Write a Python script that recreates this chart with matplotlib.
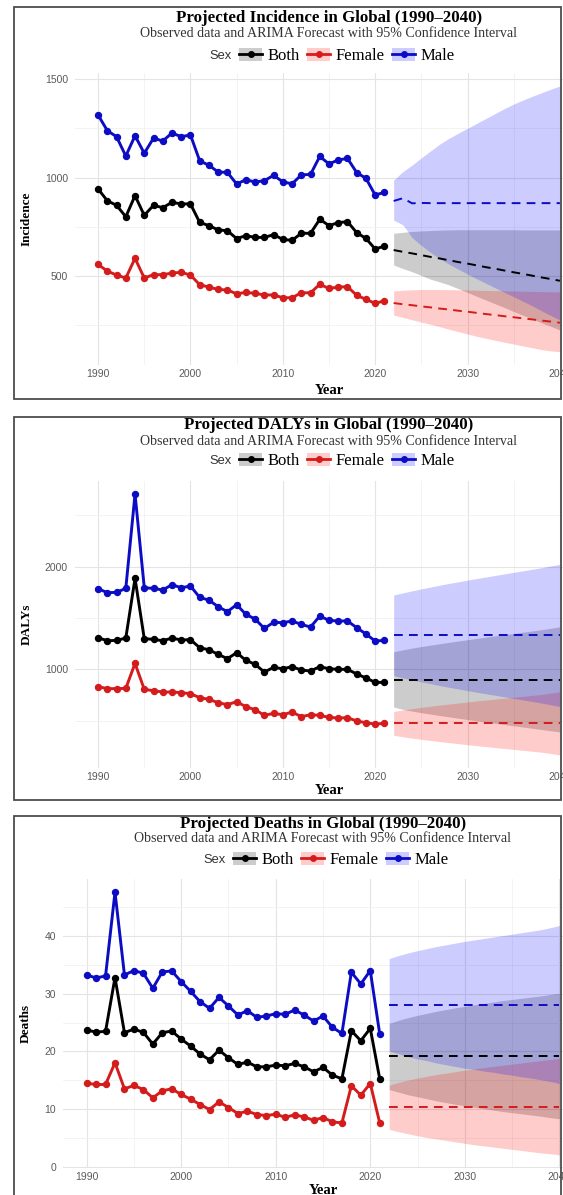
import matplotlib
matplotlib.use("Agg")
import matplotlib.pyplot as plt
from matplotlib.patches import Patch, Rectangle
from matplotlib.lines import Line2D
from matplotlib.ticker import MultipleLocator, FixedLocator

# ---------------- data ----------------
years = list(range(1990, 2022))
fyears = list(range(2022, 2041))
sexes = ["Both", "Female", "Male"]

# Incidence
inc_both = [942, 882, 859, 801, 908, 808, 859, 847, 874, 866, 866, 772, 756, 734, 730, 690,
            705, 696, 696, 710, 686, 681, 717, 717, 788, 756, 771, 776, 720, 691, 637, 652]
inc_female = [559, 525, 505, 490, 590, 490, 507, 507, 515, 519, 505, 456, 444, 432, 429, 410,
              417, 412, 404, 404, 390, 390, 415, 415, 458, 437, 444, 446, 402, 382, 361, 375]
inc_male = [1317, 1238, 1207, 1109, 1212, 1123, 1200, 1185, 1226, 1207, 1216, 1085, 1062, 1028,
            1026, 967, 989, 977, 984, 1011, 978, 968, 1013, 1016, 1107, 1069, 1089, 1097, 1025,
            996, 911, 925]
inc_both_fc = [632, 623, 615, 606, 597, 589, 580, 571, 563, 554, 545, 537, 528, 519, 511, 502, 493, 485, 476]
inc_both_hi = [717, 722, 726, 729, 731, 733, 734, 735, 735, 735, 735, 735, 735, 735, 734, 734, 734, 734, 734]
inc_both_lo = [556, 538, 522, 503, 484, 470, 455, 436, 417, 397, 378, 359, 340, 320, 301, 282, 263, 245, 226]
inc_female_fc = [363, 357, 352, 346, 341, 335, 330, 324, 319, 313, 307, 302, 296, 291, 285, 280, 274, 269, 263]
inc_female_hi = [424, 428, 430, 432, 432, 432, 431, 430, 429, 428, 427, 426, 425, 424, 423, 422, 421, 420, 420]
inc_female_lo = [302, 290, 278, 266, 255, 243, 230, 218, 206, 194, 184, 174, 164, 155, 145, 136, 127, 120, 116]
inc_male_fc = [881, 895, 869, 871, 870, 870, 870, 870, 870, 870, 870, 870, 870, 870, 870, 870, 870, 870, 870]
inc_male_hi = [987, 1030, 1063, 1100, 1135, 1170, 1199, 1225, 1250, 1275, 1300, 1325, 1350, 1373, 1393, 1412, 1430, 1448, 1464]
inc_male_lo = [784, 760, 695, 655, 620, 588, 560, 535, 510, 486, 463, 440, 417, 395, 372, 349, 324, 300, 277]

# DALYs
daly_both = [1308, 1279, 1282, 1305, 1886, 1299, 1292, 1279, 1305, 1286, 1289, 1211, 1191, 1146,
             1104, 1162, 1088, 1049, 974, 1019, 1006, 1026, 993, 984, 1026, 1006, 1000, 1000, 955,
             916, 873, 873]
daly_female = [831, 812, 812, 815, 1058, 805, 792, 779, 779, 773, 763, 724, 708, 675, 656, 685,
               636, 607, 552, 571, 558, 584, 539, 558, 552, 532, 526, 529, 497, 480, 467, 474]
daly_male = [1786, 1747, 1750, 1789, 2708, 1795, 1789, 1773, 1825, 1795, 1812, 1701, 1675, 1610,
             1562, 1630, 1536, 1490, 1399, 1458, 1455, 1471, 1438, 1412, 1519, 1477, 1471, 1471,
             1406, 1344, 1276, 1282]
daly_both_fc = [900, 900, 900, 900, 900, 900, 900, 900, 900, 900, 900, 900, 900, 900, 900, 900, 900, 900, 900]
daly_both_hi = [1171, 1190, 1207, 1222, 1236, 1250, 1263, 1276, 1289, 1302, 1314, 1326, 1338, 1350, 1362, 1374, 1386, 1400, 1415]
daly_both_lo = [632, 610, 593, 578, 564, 550, 537, 524, 511, 498, 486, 474, 462, 450, 438, 426, 414, 402, 390]
daly_female_fc = [474, 474, 474, 474, 474, 474, 474, 474, 474, 474, 474, 474, 474, 474, 474, 474, 474, 474, 474]
daly_female_hi = [590, 605, 618, 630, 641, 652, 662, 672, 682, 692, 701, 710, 719, 728, 737, 746, 755, 768, 782]
daly_female_lo = [358, 343, 330, 318, 307, 296, 286, 276, 266, 256, 247, 238, 229, 220, 211, 202, 193, 180, 166]
daly_male_fc = [1331, 1331, 1331, 1331, 1331, 1331, 1331, 1331, 1331, 1331, 1331, 1331, 1331, 1331, 1331, 1331, 1331, 1331, 1331]
daly_male_hi = [1724, 1745, 1765, 1784, 1802, 1820, 1837, 1853, 1869, 1885, 1900, 1915, 1930, 1945, 1960, 1975, 1990, 2007, 2023]
daly_male_lo = [940, 917, 897, 878, 860, 842, 825, 809, 793, 777, 762, 747, 732, 717, 702, 687, 672, 655, 637]

# Deaths
death_both = [23.70, 23.35, 23.47, 32.78, 23.24, 23.87, 23.30, 21.27, 23.24, 23.53, 22.14, 20.93,
              19.54, 18.56, 20.23, 18.90, 17.75, 18.15, 17.34, 17.34, 17.63, 17.52, 17.92, 17.34,
              16.48, 17.23, 15.90, 15.26, 23.58, 21.85, 23.99, 15.26]
death_female = [14.51, 14.28, 14.28, 18.04, 13.53, 14.11, 13.41, 11.97, 13.18, 13.53, 12.55, 11.74,
                10.81, 9.94, 11.27, 10.29, 9.25, 9.66, 9.08, 8.90, 9.13, 8.61, 9.02, 8.67, 8.09,
                8.56, 7.81, 7.63, 14.05, 12.43, 14.45, 7.63]
death_male = [33.24, 32.72, 33.06, 47.57, 33.24, 33.99, 33.53, 30.93, 33.76, 33.93, 32.08, 30.40,
              28.61, 27.46, 29.36, 27.86, 26.30, 27.05, 25.90, 26.13, 26.53, 26.42, 27.17, 26.30,
              25.26, 26.13, 24.16, 23.12, 33.70, 31.68, 33.99, 23.01]
death_both_fc = [19.19] * 19
death_both_hi = [24.86, 25.4, 25.85, 26.25, 26.6, 26.95, 27.25, 27.55, 27.8, 28.05, 28.3, 28.55, 28.8, 29.0, 29.2, 29.4, 29.6, 29.85, 30.06]
death_both_lo = [13.4, 12.95, 12.5, 12.15, 11.8, 11.45, 11.15, 10.85, 10.6, 10.35, 10.1, 9.85, 9.6, 9.4, 9.2, 9.0, 8.8, 8.55, 8.35]
death_female_fc = [10.41] * 19
death_female_hi = [14.16, 14.65, 15.05, 15.4, 15.7, 16.0, 16.25, 16.5, 16.75, 17.0, 17.2, 17.4, 17.6, 17.8, 18.0, 18.2, 18.4, 18.6, 18.79]
death_female_lo = [6.5, 6.1, 5.75, 5.4, 5.1, 4.85, 4.6, 4.35, 4.1, 3.85, 3.65, 3.45, 3.25, 3.05, 2.85, 2.65, 2.45, 2.3, 2.1]
death_male_fc = [28.09] * 19
death_male_hi = [36.07, 36.6, 37.05, 37.45, 37.8, 38.15, 38.45, 38.75, 39.05, 39.3, 39.55, 39.8, 40.05, 40.3, 40.55, 40.8, 41.05, 41.4, 41.79]
death_male_lo = [20.1, 19.6, 19.1, 18.7, 18.4, 18.0, 17.7, 17.4, 17.1, 16.9, 16.6, 16.4, 16.1, 15.9, 15.6, 15.4, 15.1, 14.8, 14.45]

measures = ["Incidence", "DALYs", "Deaths"]
obs = {
    "Incidence": [inc_both, inc_female, inc_male],
    "DALYs": [daly_both, daly_female, daly_male],
    "Deaths": [death_both, death_female, death_male],
}
fc = {
    "Incidence": [inc_both_fc, inc_female_fc, inc_male_fc],
    "DALYs": [daly_both_fc, daly_female_fc, daly_male_fc],
    "Deaths": [death_both_fc, death_female_fc, death_male_fc],
}
lo = {
    "Incidence": [inc_both_lo, inc_female_lo, inc_male_lo],
    "DALYs": [daly_both_lo, daly_female_lo, daly_male_lo],
    "Deaths": [death_both_lo, death_female_lo, death_male_lo],
}
hi = {
    "Incidence": [inc_both_hi, inc_female_hi, inc_male_hi],
    "DALYs": [daly_both_hi, daly_female_hi, daly_male_hi],
    "Deaths": [death_both_hi, death_female_hi, death_male_hi],
}
yticks = {"Incidence": [500, 1000, 1500], "DALYs": [1000, 2000], "Deaths": [0, 10, 20, 30, 40]}
yminor = {"Incidence": [250, 750, 1250], "DALYs": [500, 1500, 2500], "Deaths": [5, 15, 25, 35, 45]}
xticks = [1990, 2000, 2010, 2020, 2030, 2040]

# ---------------- style / layout ----------------
line_colors = ["#000000", "#d41c1c", "#0c0cc4"]
fill_colors = ["#000000", "#ff0000", "#0000ff"]
SERIF = ["Liberation Serif", "DejaVu Serif"]
SANS = ["Liberation Sans", "DejaVu Sans"]

W, H = 563, 1195
fig = plt.figure(figsize=(W / 100, H / 100), dpi=100)

layout = {
    "Incidence": dict(box=(14, 7, 561, 399), ax=(75, 72.8, 583, 365), title=17.5, sub=33.5, leg=56, xl=390, ylx=27),
    "DALYs": dict(box=(14, 417, 561, 800), ax=(75, 481, 583, 768), title=425.5, sub=441.5, leg=461, xl=791, ylx=27),
    "Deaths": dict(box=(14, 816, 561, 1210), ax=(63, 879, 583, 1168), title=823.5, sub=838.5, leg=860, xl=1190, ylx=26),
}


def fx(x):
    return x / W


def fy(y):
    return 1 - y / H


for m in measures:
    L = layout[m]
    x0, y0, x1, y1 = L["ax"]
    ax = fig.add_axes([fx(x0), fy(y1), (x1 - x0) / W, (y1 - y0) / H])
    for i in range(3):
        ax.fill_between(fyears, lo[m][i], hi[m][i], color=fill_colors[i], alpha=0.2,
                        linewidth=0, zorder=1)
    for i in range(3):
        ax.plot(years, obs[m][i], color=line_colors[i], lw=2.1, marker="o", ms=4.3,
                solid_joinstyle="round", zorder=3)
        ax.plot(fyears, fc[m][i], color=line_colors[i], lw=1.4, ls=(0, (4.5, 3.2)), zorder=3)
    ax.margins(x=0.05, y=0.05)
    ax.set_xticks(xticks)
    ax.xaxis.set_minor_locator(MultipleLocator(5))
    ax.set_yticks(yticks[m])
    ax.yaxis.set_minor_locator(FixedLocator(yminor[m]))
    ax.grid(which="major", color="#e4e4e4", lw=0.8)
    ax.grid(which="minor", color="#f1f1f1", lw=0.6)
    ax.set_axisbelow(True)
    ax.tick_params(which="both", length=0, labelsize=7.5, labelcolor="#5a5a5a")
    ax.tick_params(axis="y", pad=5)
    ax.tick_params(axis="x", pad=3)
    for lab in ax.get_xticklabels() + ax.get_yticklabels():
        lab.set_family(SANS)
    for s in ax.spines.values():
        s.set_visible(False)

    cx = (x0 + x1) / 2
    fig.text(fx(cx), fy(L["title"]), f"Projected {m} in Global (1990\u20132040)", family=SERIF,
             fontsize=12.2, fontweight="bold", ha="center", va="center")
    fig.text(fx(cx), fy(L["sub"]), "Observed data and ARIMA Forecast with 95% Confidence Interval",
             family=SERIF, fontsize=10.1, color="#333333", ha="center", va="center")
    fig.text(fx(cx), fy(L["xl"]), "Year", family=SERIF, fontsize=10.5, fontweight="bold",
             ha="center", va="center")
    fig.text(fx(L["ylx"]), fy((y0 + y1) / 2), m, family=SERIF, fontsize=9.5, fontweight="bold",
             rotation=90, ha="center", va="center")

    # legend
    fig.text(fx(cx - 108), fy(L["leg"]), "Sex", family=SANS, fontsize=9.3, color="#333333",
             ha="center", va="center")
    handles = [(Patch(facecolor=fill_colors[i], alpha=0.2, edgecolor="none"),
                Line2D([], [], color=line_colors[i], lw=2, marker="o", ms=4))
               for i in range(3)]
    fig.legend(handles, sexes, loc="center left", bbox_to_anchor=(fx(cx - 90), fy(L["leg"])),
               frameon=False, ncol=3, prop={"family": SERIF, "size": 12}, handlelength=1.4,
               handleheight=0.8, handletextpad=0.3, columnspacing=0.45, borderpad=0,
               borderaxespad=0)

    bx0, by0, bx1, by1 = L["box"]
    fig.patches.append(Rectangle((fx(bx0), fy(by1)), (bx1 - bx0) / W, (by1 - by0) / H,
                                 transform=fig.transFigure, fill=False, edgecolor="#4d4d4d",
                                 lw=1.3, zorder=20))

fig.savefig("out.png", dpi=100)
